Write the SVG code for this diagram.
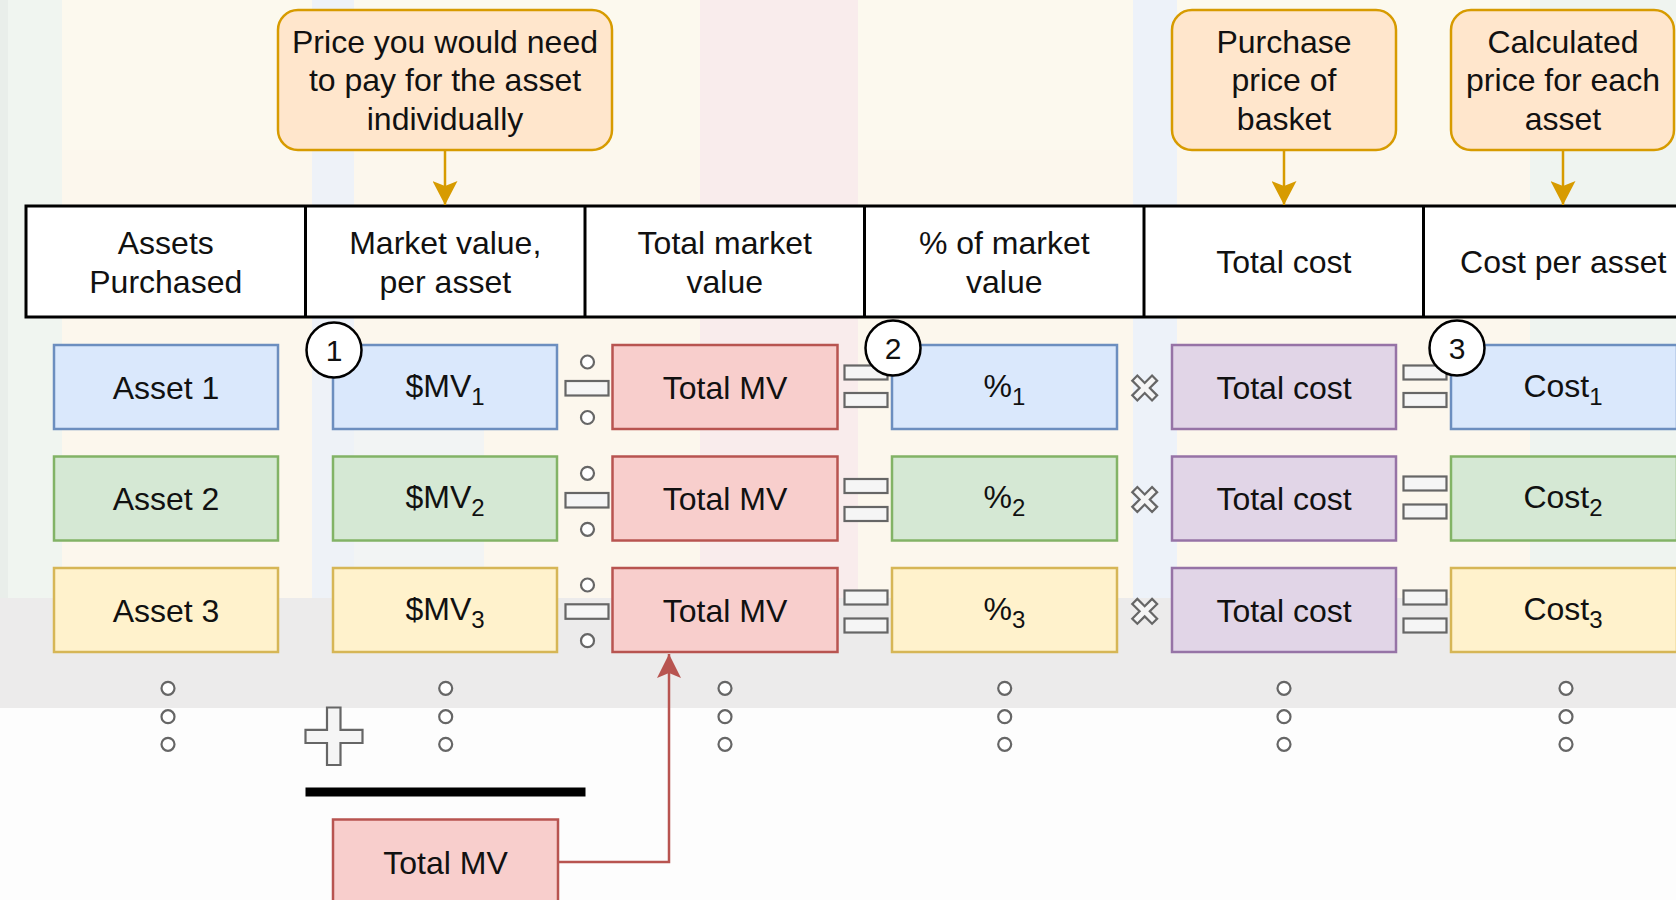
<svg xmlns="http://www.w3.org/2000/svg" width="1676" height="900" viewBox="0 0 1676 900">
<style>
text{font-family:"Liberation Sans",Arial,Helvetica,sans-serif;fill:#111;}
.t{font-size:32px;text-anchor:middle;}
.num{font-size:30px;text-anchor:middle;}
.box{stroke-width:2.5;}
.blue{fill:#dae8fc;stroke:#6c8ebf;}
.green{fill:#d5e8d4;stroke:#82b366;}
.yellow{fill:#fff2cc;stroke:#d6b656;}
.red{fill:#f8cecc;stroke:#b85450;}
.purple{fill:#e1d5e7;stroke:#9673a6;}
.call{fill:#ffe6cc;stroke:#d79b00;stroke-width:2.5;}
.op{fill:#f5f5f5;stroke:#666;stroke-width:2.2;}
.dot{fill:#fff;stroke:#666;stroke-width:2.2;}
.circ{fill:#fff;stroke:#000;stroke-width:2.5;}
.tbl{fill:#fff;stroke:#000;stroke-width:3;}
</style>
<defs>
<marker id="arrO" markerUnits="userSpaceOnUse" viewBox="0 0 24 25" refX="24" refY="12.5" markerWidth="24" markerHeight="25" orient="auto">
<path d="M0,0 L24,12.5 L0,25 L5,12.5 z" fill="#d79b00"/>
</marker>
<marker id="arrR" markerUnits="userSpaceOnUse" viewBox="0 0 24 24" refX="24" refY="12" markerWidth="24" markerHeight="24" orient="auto">
<path d="M0,0 L24,12 L0,24 L5,12 z" fill="#b85450"/>
</marker>
<polygon id="xs" points="-3.6,-14 3.6,-14 3.6,-3.6 14,-3.6 14,3.6 3.6,3.6 3.6,14 -3.6,14 -3.6,3.6 -14,3.6 -14,-3.6 -3.6,-3.6" transform="rotate(45)"/>
</defs>

<g id="background">
<rect x="0" y="0" width="1676" height="900" fill="#fdfdfd"/>
<rect x="0" y="0" width="1676" height="598" fill="#fcf9ee"/>
<rect x="0" y="150" width="1676" height="448" fill="#fbf5ec" opacity="0.6"/>
<rect x="0" y="0" width="62" height="598" fill="#f0f5f0"/>
<rect x="0" y="0" width="8" height="598" fill="#e9eeea"/>
<rect x="312" y="0" width="42" height="598" fill="#eef2f8"/>
<rect x="314" y="430" width="170" height="168" fill="#eef2f7" opacity="0.7"/>
<rect x="700" y="0" width="158" height="598" fill="#f9ecec"/>
<rect x="1133" y="0" width="44" height="598" fill="#edf2f9"/>
<rect x="1530" y="0" width="146" height="598" fill="#eff4f0"/>
<rect x="0" y="598" width="1676" height="110" fill="#ecebeb"/>
</g>

<g id="table">
<rect class="tbl" x="26" y="206" width="1700" height="111"/>
<line x1="305.5" y1="206" x2="305.5" y2="317" stroke="#000" stroke-width="3"/>
<line x1="585" y1="206" x2="585" y2="317" stroke="#000" stroke-width="3"/>
<line x1="864.5" y1="206" x2="864.5" y2="317" stroke="#000" stroke-width="3"/>
<line x1="1144" y1="206" x2="1144" y2="317" stroke="#000" stroke-width="3"/>
<line x1="1423.5" y1="206" x2="1423.5" y2="317" stroke="#000" stroke-width="3"/>
<text class="t" x="165.75" y="253.5">Assets</text>
<text class="t" x="165.75" y="292.8">Purchased</text>
<text class="t" x="445.25" y="253.5">Market value,</text>
<text class="t" x="445.25" y="292.8">per asset</text>
<text class="t" x="724.75" y="253.5">Total market</text>
<text class="t" x="724.75" y="292.8">value</text>
<text class="t" x="1004.25" y="253.5">% of market</text>
<text class="t" x="1004.25" y="292.8">value</text>
<text class="t" x="1283.75" y="273">Total cost</text>
<text class="t" x="1563.25" y="273">Cost per asset</text>
</g>

<g id="callout-price">
<rect class="call" x="278" y="10" width="334" height="140" rx="20"/>
<text class="t" x="445" y="52.8">Price you would need</text>
<text class="t" x="445" y="91.3">to pay for the asset</text>
<text class="t" x="445" y="129.8">individually</text>
</g>
<g id="callout-purchase">
<rect class="call" x="1172" y="10" width="224" height="140" rx="20"/>
<text class="t" x="1284" y="52.8">Purchase</text>
<text class="t" x="1284" y="91.3">price of</text>
<text class="t" x="1284" y="129.8">basket</text>
</g>
<g id="callout-calculated">
<rect class="call" x="1451" y="10" width="223" height="140" rx="20"/>
<text class="t" x="1563" y="52.8">Calculated</text>
<text class="t" x="1563" y="91.3">price for each</text>
<text class="t" x="1563" y="129.8">asset</text>
</g>

<g id="connectors" fill="none">
<line x1="445" y1="150" x2="445" y2="205" stroke="#d79b00" stroke-width="2.5" marker-end="url(#arrO)"/>
<line x1="1284" y1="150" x2="1284" y2="205" stroke="#d79b00" stroke-width="2.5" marker-end="url(#arrO)"/>
<line x1="1563" y1="150" x2="1563" y2="205" stroke="#d79b00" stroke-width="2.5" marker-end="url(#arrO)"/>
<polyline points="558,862 669,862 669,654" stroke="#b85450" stroke-width="2.5" marker-end="url(#arrR)"/>
</g>

<g id="asset1"><rect class="box blue" x="54" y="345" width="224" height="84"/><text class="t" x="166" y="398.5">Asset 1</text></g>
<g id="asset2"><rect class="box green" x="54" y="456.5" width="224" height="84"/><text class="t" x="166" y="510">Asset 2</text></g>
<g id="asset3"><rect class="box yellow" x="54" y="568" width="224" height="84"/><text class="t" x="166" y="621.5">Asset 3</text></g>

<g id="mv1"><rect class="box blue" x="333" y="345" width="224" height="84"/><text class="t" x="445" y="396.5">$MV<tspan font-size="24" dy="8">1</tspan></text></g>
<g id="mv2"><rect class="box green" x="333" y="456.5" width="224" height="84"/><text class="t" x="445" y="508">$MV<tspan font-size="24" dy="8">2</tspan></text></g>
<g id="mv3"><rect class="box yellow" x="333" y="568" width="224" height="84"/><text class="t" x="445" y="619.5">$MV<tspan font-size="24" dy="8">3</tspan></text></g>

<g id="tmv1"><rect class="box red" x="612.5" y="345" width="225" height="84"/><text class="t" x="725" y="398.5">Total MV</text></g>
<g id="tmv2"><rect class="box red" x="612.5" y="456.5" width="225" height="84"/><text class="t" x="725" y="510">Total MV</text></g>
<g id="tmv3"><rect class="box red" x="612.5" y="568" width="225" height="84"/><text class="t" x="725" y="621.5">Total MV</text></g>

<g id="pct1"><rect class="box blue" x="892" y="345" width="225" height="84"/><text class="t" x="1004.5" y="396.5">%<tspan font-size="24" dy="8">1</tspan></text></g>
<g id="pct2"><rect class="box green" x="892" y="456.5" width="225" height="84"/><text class="t" x="1004.5" y="508">%<tspan font-size="24" dy="8">2</tspan></text></g>
<g id="pct3"><rect class="box yellow" x="892" y="568" width="225" height="84"/><text class="t" x="1004.5" y="619.5">%<tspan font-size="24" dy="8">3</tspan></text></g>

<g id="tc1"><rect class="box purple" x="1172" y="345" width="224" height="84"/><text class="t" x="1284" y="398.5">Total cost</text></g>
<g id="tc2"><rect class="box purple" x="1172" y="456.5" width="224" height="84"/><text class="t" x="1284" y="510">Total cost</text></g>
<g id="tc3"><rect class="box purple" x="1172" y="568" width="224" height="84"/><text class="t" x="1284" y="621.5">Total cost</text></g>

<g id="cost1"><rect class="box blue" x="1451" y="345" width="226" height="84"/><text class="t" x="1563" y="396.5">Cost<tspan font-size="24" dy="8">1</tspan></text></g>
<g id="cost2"><rect class="box green" x="1451" y="456.5" width="226" height="84"/><text class="t" x="1563" y="508">Cost<tspan font-size="24" dy="8">2</tspan></text></g>
<g id="cost3"><rect class="box yellow" x="1451" y="568" width="226" height="84"/><text class="t" x="1563" y="619.5">Cost<tspan font-size="24" dy="8">3</tspan></text></g>

<g id="total-mv-sum"><rect class="box red" x="333" y="819.5" width="225" height="86"/><text class="t" x="445.5" y="874">Total MV</text></g>

<g id="divide-ops">
<circle class="dot" cx="587.5" cy="362" r="6.5"/><rect class="op" x="565.5" y="381" width="43" height="14.5"/><circle class="dot" cx="587.5" cy="417.5" r="6.5"/>
<circle class="dot" cx="587.5" cy="473.3" r="6.5"/><rect class="op" x="565.5" y="493" width="43" height="14.5"/><circle class="dot" cx="587.5" cy="529.3" r="6.5"/>
<circle class="dot" cx="587.5" cy="585" r="6.5"/><rect class="op" x="565.5" y="604.3" width="43" height="14.5"/><circle class="dot" cx="587.5" cy="640.7" r="6.5"/>
</g>
<g id="equals-ops-1">
<rect class="op" x="844.5" y="365.5" width="43" height="14"/><rect class="op" x="844.5" y="393" width="43" height="14"/>
<rect class="op" x="844.5" y="479" width="43" height="14"/><rect class="op" x="844.5" y="507" width="43" height="14"/>
<rect class="op" x="844.5" y="590.5" width="43" height="14"/><rect class="op" x="844.5" y="618.5" width="43" height="14"/>
</g>
<g id="multiply-ops">
<use href="#xs" class="op" x="1144.7" y="388"/>
<use href="#xs" class="op" x="1144.7" y="499.5"/>
<use href="#xs" class="op" x="1144.7" y="611.3"/>
</g>
<g id="equals-ops-2">
<rect class="op" x="1403.5" y="365.5" width="43" height="14"/><rect class="op" x="1403.5" y="393" width="43" height="14"/>
<rect class="op" x="1403.5" y="476.5" width="43" height="14"/><rect class="op" x="1403.5" y="504.5" width="43" height="14"/>
<rect class="op" x="1403.5" y="590.5" width="43" height="14"/><rect class="op" x="1403.5" y="618.5" width="43" height="14"/>
</g>

<g id="ellipses">
<circle class="dot" cx="168" cy="688.3" r="6.5"/><circle class="dot" cx="168" cy="716.7" r="6.5"/><circle class="dot" cx="168" cy="744.3" r="6.5"/>
<circle class="dot" cx="445.7" cy="688.3" r="6.5"/><circle class="dot" cx="445.7" cy="716.7" r="6.5"/><circle class="dot" cx="445.7" cy="744.3" r="6.5"/>
<circle class="dot" cx="725" cy="688.3" r="6.5"/><circle class="dot" cx="725" cy="716.7" r="6.5"/><circle class="dot" cx="725" cy="744.3" r="6.5"/>
<circle class="dot" cx="1004.7" cy="688.3" r="6.5"/><circle class="dot" cx="1004.7" cy="716.7" r="6.5"/><circle class="dot" cx="1004.7" cy="744.3" r="6.5"/>
<circle class="dot" cx="1284" cy="688.3" r="6.5"/><circle class="dot" cx="1284" cy="716.7" r="6.5"/><circle class="dot" cx="1284" cy="744.3" r="6.5"/>
<circle class="dot" cx="1566" cy="688.3" r="6.5"/><circle class="dot" cx="1566" cy="716.7" r="6.5"/><circle class="dot" cx="1566" cy="744.3" r="6.5"/>
</g>

<g id="plus-op">
<polygon class="op" points="327,707.5 340.5,707.5 340.5,729.8 362.5,729.8 362.5,743 340.5,743 340.5,765 327,765 327,743 305.5,743 305.5,729.8 327,729.8"/>
</g>
<g id="sum-bar">
<rect x="305.5" y="787.5" width="280" height="9" fill="#000"/>
</g>

<g id="step1"><circle class="circ" cx="334" cy="350" r="27.5"/><text class="num" x="334" y="361">1</text></g>
<g id="step2"><circle class="circ" cx="893" cy="348" r="27.5"/><text class="num" x="893" y="359">2</text></g>
<g id="step3"><circle class="circ" cx="1457" cy="348" r="27.5"/><text class="num" x="1457" y="359">3</text></g>
</svg>
